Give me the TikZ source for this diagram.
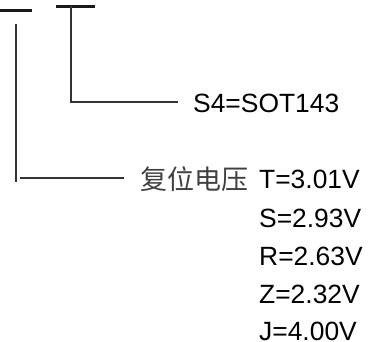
\documentclass[tikz,border=0pt]{standalone}
\usepackage{fontspec}
\setmainfont{Liberation Sans}
\newfontfamily\cjk{Noto Sans CJK SC}
\begin{document}
\begin{tikzpicture}[x=1pt,y=-1pt,
  bar/.style={line width=3pt,black!90},
  lead/.style={line width=2.2pt,black!80},
  leadh/.style={line width=1.8pt,black!80},
  lbl/.style={anchor=base west,inner sep=0pt,font=\fontsize{26.4}{30}\selectfont},
  cn/.style={anchor=base west,inner sep=0pt,text=black!75,font=\cjk\fontsize{27}{30}\selectfont}]
\useasboundingbox (0,0) rectangle (368,342);
% bars
\coordinate (b1l) at (0,10.8);
\coordinate (b1r) at (32,10.8);
\coordinate (b2l) at (56,6.7);
\coordinate (b2r) at (95,6.7);
\draw[bar] (b1l) -- (b1r);
\draw[bar] (b2l) -- (b2r);
% leader 2 to package
\coordinate (v2t) at (70.7,6);
\coordinate (v2b) at (70.7,102);
\coordinate (h2e) at (178,102);
\draw[lead] (v2t) -- (v2b);
\draw[leadh] ([xshift=-1pt]v2b) -- (h2e);
% leader 1 to reset voltage
\coordinate (v1t) at (16,24);
\coordinate (v1b) at (16,182);
\coordinate (h1s) at (20,177.7);
\coordinate (h1e) at (124,177.7);
\draw[lead] (v1t) -- (v1b);
\draw[leadh] (h1s) -- (h1e);
% texts
\node[lbl] (pkg) at (193,113) {S4=SOT143};
\node[cn] (rv) at (140,189.5) {复位电压};
\node[lbl] (t) at (259,189) {T=3.01V};
\node[lbl] (s) at (259,227.2) {S=2.93V};
\node[lbl] (r) at (259,265.4) {R=2.63V};
\node[lbl] (z) at (259,303.6) {Z=2.32V};
\node[lbl] (j) at (259,341) {J=4.00V};
\end{tikzpicture}
\end{document}
